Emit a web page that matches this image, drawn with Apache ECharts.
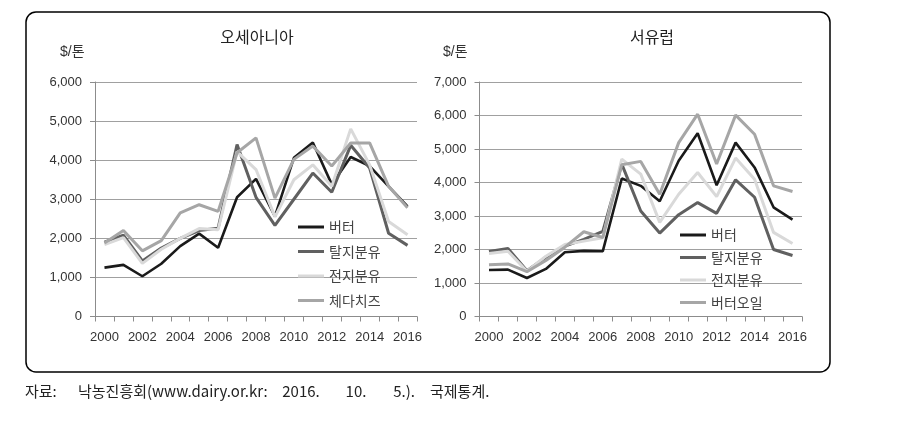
<!DOCTYPE html>
<html>
<head>
<meta charset="utf-8">
<script src="https://cdn.jsdelivr.net/npm/echarts@6/dist/echarts.min.js"></script>
<style>
html,body{margin:0;padding:0;background:#fff;}
#c{width:904px;height:426px;}
</style>
</head>
<body>
<div id="c"></div>
<script>
const years = ['2000','2001','2002','2003','2004','2005','2006','2007','2008','2009','2010','2011','2012','2013','2014','2015','2016'];

// 오세아니아
const ocButter  = [1250,1320,1030,1350,1800,2120,1760,3050,3520,2560,4060,4450,3380,4080,3850,3330,2820];
const ocSkim    = [1900,2080,1420,1750,2000,2200,2260,4400,3050,2330,3000,3670,3180,4380,3800,2130,1820];
const ocWhole   = [1840,2020,1360,1720,2000,2250,2220,4220,3760,2550,3500,3880,3330,4800,3880,2430,2090];
const ocCheddar = [1880,2200,1680,1940,2650,2860,2690,4190,4570,3030,4020,4360,3850,4440,4440,3330,2780];

// 서유럽
const weButter = [1390,1400,1150,1420,1920,1960,1950,4120,3900,3440,4650,5470,3920,5190,4450,3260,2890];
const weSkim   = [1940,2030,1370,1770,2100,2300,2540,4550,3150,2490,3040,3400,3080,4080,3560,2000,1820];
const weWhole  = [1880,1950,1350,1800,2150,2250,2350,4700,4250,2810,3650,4300,3580,4730,4100,2510,2180];
const weOil    = [1545,1570,1340,1670,2070,2530,2360,4530,4630,3650,5190,6040,4550,6010,5440,3900,3730];

const namesOc = ['버터','탈지분유','전지분유','체다치즈'];
const namesWe = ['버터','탈지분유','전지분유','버터오일'];
const captionParts = ['자료:', '낙농진흥회(www.dairy.or.kr:', '2016.', '10.', '5.).', '국제통계.'];

const C_BUTTER = '#1a1a1a', C_SKIM = '#606060', C_WHOLE = '#d9d9d9', C_GRAY = '#a6a6a6';
const FONT = '"Liberation Sans", Arial, "Noto Sans CJK KR", sans-serif';
const KFONT = '"Noto Sans CJK KR", sans-serif';

const chart = echarts.init(document.getElementById('c'), null, {renderer:'canvas'});

function xAxis(idx){
  return {
    type:'category', gridIndex:idx, data:years, boundaryGap:true,
    axisLine:{lineStyle:{color:'#8c8c8c', width:1}},
    axisTick:{show:true, interval:0, length:5, lineStyle:{color:'#8c8c8c'}},
    axisLabel:{interval:1, color:'#333', fontSize:13, fontFamily:FONT, margin:14},
    splitLine:{show:false}
  };
}
function yAxis(idx, max){
  return {
    type:'value', gridIndex:idx, min:0, max:max, interval:1000,
    axisLine:{show:true, lineStyle:{color:'#8c8c8c', width:1}},
    axisTick:{show:true, length:5, lineStyle:{color:'#8c8c8c'}},
    axisLabel:{color:'#333', fontSize:13, fontFamily:FONT, margin:13,
      formatter:v=>v.toLocaleString('en-US')},
    splitLine:{show:true, lineStyle:{color:'#a0a0a0', width:1}}
  };
}
function line(name, data, color, idx, w){
  return {type:'line', name:name, data:data, xAxisIndex:idx, yAxisIndex:idx,
    symbol:'none', lineStyle:{color:color, width:w||3}, itemStyle:{color:color},
    emphasis:{disabled:true}, animation:false};
}
function legend(names, left, top, gap){
  return {data:names, orient:'vertical', left:left, top:top, padding:0,
    icon:'rect', itemGap:gap, itemWidth:26, itemHeight:3,
    textStyle:{fontSize:14, color:'#444', fontFamily:KFONT}, selectedMode:false};
}

const captionX = [25, 78, 301, 356, 404, 430];
const captionAlign = ['left','left','center','center','center','left'];
const captionGraphics = captionParts.map((t,i)=>({type:'text', x:captionX[i], y:391,
  style:{text:t, font:'15px '+KFONT, fill:'#222', align:captionAlign[i], verticalAlign:'middle'}}));

chart.setOption({
  animation:false,
  grid:[
    {left:95, right:487, top:82, bottom:109.5, containLabel:false},
    {left:479.5, right:102, top:82, bottom:109.5, containLabel:false}
  ],
  xAxis:[xAxis(0), xAxis(1)],
  yAxis:[yAxis(0,6000), yAxis(1,7000)],
  legend:[
    legend(namesOc, 298, 220, 10.5),
    legend(namesWe, 680, 228, 8.5)
  ],
  series:[
    line(namesOc[0], ocButter, C_BUTTER, 0, 2.6),
    line(namesOc[1], ocSkim, C_SKIM, 0),
    line(namesOc[2], ocWhole, C_WHOLE, 0),
    line(namesOc[3], ocCheddar, C_GRAY, 0),
    line(namesWe[0], weButter, C_BUTTER, 1, 2.6),
    line(namesWe[1], weSkim, C_SKIM, 1),
    line(namesWe[2], weWhole, C_WHOLE, 1),
    line(namesWe[3], weOil, C_GRAY, 1)
  ],
  graphic:[
    {type:'rect', shape:{x:26, y:12, width:804, height:360, r:10}, style:{fill:'none', stroke:'#000', lineWidth:1.5}, silent:true},
    {type:'text', x:257, y:37, style:{text:'오세아니아', font:'16px '+KFONT, fill:'#222', align:'center', verticalAlign:'middle'}},
    {type:'text', x:652, y:37, style:{text:'서유럽', font:'16px '+KFONT, fill:'#222', align:'center', verticalAlign:'middle'}},
    {type:'text', x:60, y:52, style:{text:'$/톤', font:'14px '+FONT, fill:'#333', align:'left', verticalAlign:'middle'}},
    {type:'text', x:443, y:52, style:{text:'$/톤', font:'14px '+FONT, fill:'#333', align:'left', verticalAlign:'middle'}}
  ].concat(captionGraphics)
});
</script>
</body>
</html>
